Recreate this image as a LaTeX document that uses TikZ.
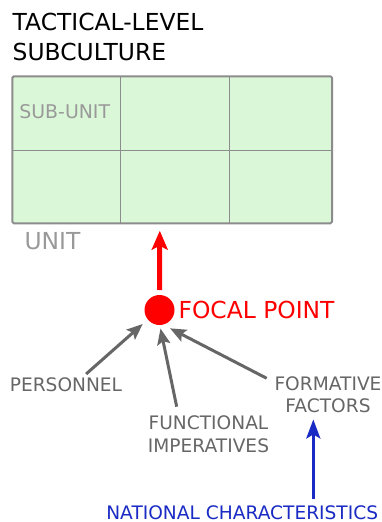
\documentclass[tikz,border=0pt]{standalone}
\usepackage{fontspec}
\setmainfont{DejaVu Sans}
\usetikzlibrary{arrows.meta,calc}
\definecolor{gridfill}{HTML}{DAF8D8}
\definecolor{gridline}{HTML}{8C8C8C}
\definecolor{lbl}{HTML}{999999}
\definecolor{dk}{HTML}{666666}
\definecolor{nat}{HTML}{1A2BC4}
\tikzset{
  txt/.style={inner sep=0pt, outer sep=0pt},
  big/.style={font=\fontsize{23.4}{30}\selectfont},
  small/.style={font=\fontsize{18.6}{22.4}\selectfont},
  grayarrow/.style={draw=dk, line width=3pt, -{Stealth[length=16pt,width=13pt,inset=3pt]}},
  redarrow/.style={draw=red, line width=5pt, -{Stealth[length=19pt,width=16pt,inset=4pt]}},
  bluearrow/.style={draw=nat, line width=3pt, -{Stealth[length=19pt,width=14pt,inset=4pt]}},
}
\begin{document}
\begin{tikzpicture}[x=1pt,y=-1pt]
\useasboundingbox (0,0) rectangle (381,522);
% title
\node[txt, big, anchor=north west, align=left] (title) at (12.7,13.0) {TACTICAL-LEVEL\\SUBCULTURE};
% grid (unit)
\node[draw=gridline, fill=gridfill, line width=2pt, rounded corners=1.5pt,
      minimum width=319.7pt, minimum height=147pt, inner sep=0pt, outer sep=0pt] (unit) at (172.15,149.8) {};
\draw[gridline, line width=1.2pt] ($(unit.north west)+(108.4,0)$) -- ($(unit.south west)+(108.4,0)$);
\draw[gridline, line width=1.2pt] ($(unit.north west)+(217,0)$) -- ($(unit.south west)+(217,0)$);
\draw[gridline, line width=1.2pt] ($(unit.north west)+(0,74)$) -- ($(unit.north east)+(0,74)$);
\node[txt, anchor=north west, text=lbl, font=\fontsize{18.9}{22}\selectfont] (sub) at (19.4,104.8) {SUB-UNIT};
\node[txt, big, anchor=north west, text=lbl] (unitlbl) at (24.6,232.0) {UNIT};
% focal point
\node[circle, fill=red, minimum size=30pt, inner sep=0pt, outer sep=0pt] (fp) at (159.5,310) {};
\node[txt, big, anchor=north west, text=red] (fplbl) at (178.6,301.5) {FOCAL POINT};
\coordinate (unittip) at (159.8,230.7);
\draw[redarrow, shorten <=5pt] (fp.north) -- (unittip);
% factors
\node[txt, small, anchor=north west, text=dk] (pers) at (9.8,378.1) {PERSONNEL};
\node[txt, small, anchor=north, text=dk, align=center] (func) at (208.5,415.8) {FUNCTIONAL\\IMPERATIVES};
\node[txt, small, anchor=north, text=dk, align=center] (form) at (328,376.5) {FORMATIVE\\FACTORS};
\node[txt, small, anchor=north west, text=nat] (nat) at (106.3,505.8) {NATIONAL CHARACTERISTICS};
\draw[grayarrow] ($(pers.north west)+(76.3,-4.1)$) -- ($(fp)+(-16.8,14)$);
\draw[grayarrow] ($(func.north)+(-31.8,-9.1)$) -- ($(fp)+(1,18.5)$);
\draw[grayarrow] ($(form.north)+(-61.3,1.8)$) -- ($(fp)+(10.5,18.3)$);
\draw[bluearrow] ($(nat.north west)+(207,-6.5)$) -- ($(form.south)+(-14.7,6.5)$);
\end{tikzpicture}
\end{document}
